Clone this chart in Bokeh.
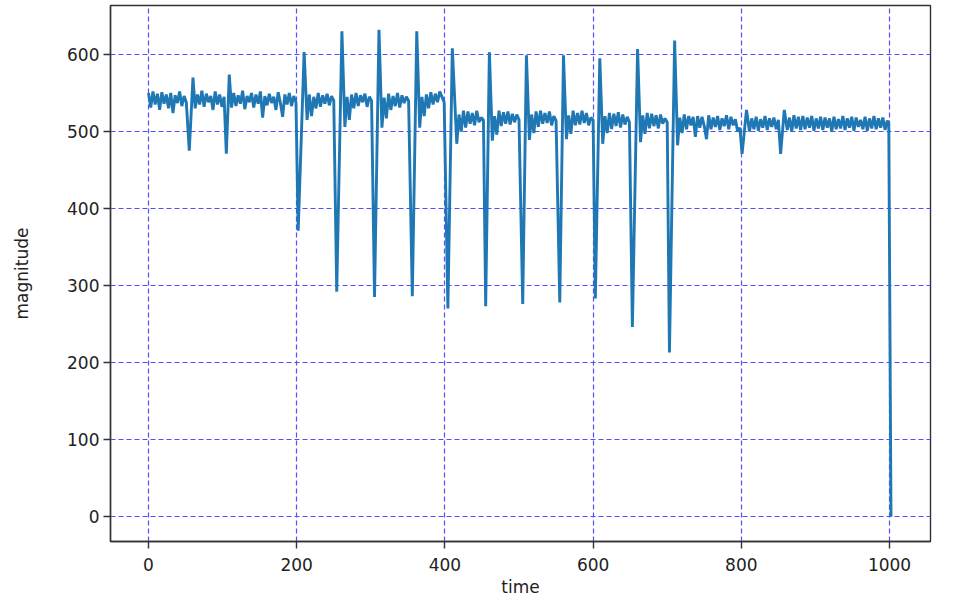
from bokeh.plotting import figure
from bokeh.models import Range1d, FixedTicker
from bokeh.embed import file_html
from bokeh.resources import INLINE

# ---- data ----
time_a = [0, 3, 6, 9, 12, 15, 18, 21, 24, 27, 30, 33, 36, 39, 42, 45, 48, 51, 55, 60,
          63, 66, 69, 72, 75, 78, 81, 84, 87, 90, 93, 96, 99, 102, 105, 109, 112, 115, 118, 121,
          124, 127, 130, 133, 136, 139, 142, 145, 148, 151, 154, 157, 160, 163, 166, 169, 172, 175, 178, 181,
          184, 187, 190, 193, 196, 199]
mag_a = [550, 531, 552, 535, 549, 528, 551, 536, 548, 530, 550, 524, 547, 537, 552, 533, 546, 538, 475, 570,
         530, 548, 535, 553, 532, 549, 538, 546, 528, 552, 535, 548, 532, 545, 471, 574, 531, 550, 533, 547,
         536, 553, 529, 546, 538, 550, 531, 548, 536, 552, 518, 546, 534, 549, 537, 545, 528, 551, 537, 519,
         548, 535, 550, 533, 546, 538]

time_b = [202, 210, 214, 217, 220, 223, 226, 229, 232, 235, 238, 241, 244, 247, 250, 254, 261, 265, 268, 271,
          274, 277, 280, 283, 286, 289, 292, 295, 298, 301, 305, 311, 315, 318, 321, 324, 327, 330, 333, 336,
          339, 342, 345, 348, 351, 356, 362, 366, 369, 372, 375, 378, 381, 384, 387, 390, 393, 396, 399]
mag_b = [371, 603, 515, 548, 520, 545, 530, 550, 532, 547, 536, 549, 534, 546, 540, 292, 630, 506, 545, 515,
         548, 530, 550, 533, 547, 538, 549, 532, 545, 540, 285, 632, 505, 544, 517, 549, 528, 546, 533, 550,
         531, 547, 537, 545, 540, 286, 630, 505, 545, 520, 548, 530, 551, 535, 549, 538, 552, 545, 538]

time_c = [404, 410, 416, 419, 422, 425, 428, 431, 434, 437, 440, 443, 446, 449, 452, 455, 460, 464, 467, 470,
          473, 476, 479, 482, 485, 488, 491, 494, 497, 500, 505, 510, 514, 517, 520, 523, 526, 529, 532, 535,
          538, 541, 544, 547, 550, 555, 560, 564, 567, 570, 573, 576, 579, 582, 585, 588, 591, 594, 597, 600]
mag_c = [270, 608, 484, 522, 500, 527, 505, 526, 510, 524, 508, 527, 512, 518, 515, 273, 603, 488, 520, 496,
         527, 507, 525, 510, 526, 509, 523, 512, 522, 515, 276, 599, 489, 522, 498, 526, 506, 527, 510, 524,
         511, 526, 508, 520, 514, 278, 599, 490, 521, 497, 527, 508, 524, 509, 527, 511, 524, 508, 518, 515]

time_d = [603, 609, 613, 616, 619, 622, 625, 628, 631, 634, 637, 640, 643, 646, 649, 653, 660, 664, 667, 670,
          673, 676, 679, 682, 685, 688, 691, 694, 697, 700, 703, 710, 714, 717, 720, 723, 726, 729, 732, 735,
          738, 741, 744, 747, 750, 753, 756, 759, 762, 765, 768, 771, 774, 777, 780, 783, 786, 789, 792, 795,
          798]
mag_d = [283, 595, 484, 520, 498, 524, 503, 523, 507, 525, 505, 522, 509, 519, 512, 246, 607, 486, 521, 497,
         524, 504, 523, 507, 521, 504, 522, 510, 517, 512, 213, 618, 482, 518, 498, 522, 503, 520, 508, 519,
         493, 520, 505, 519, 507, 490, 521, 503, 518, 506, 520, 502, 517, 507, 521, 503, 519, 508, 516, 500,
         505]

time_e = [801, 807, 811, 814, 817, 820, 823, 826, 829, 832, 835, 838, 841, 844, 847, 850, 853, 858, 862, 865,
          868, 871, 874, 877, 880, 883, 886, 889, 892, 895, 898, 901, 904, 907, 910, 913, 916, 919, 922, 925,
          928, 931, 934, 937, 940, 943, 946, 949, 952, 955, 958, 961, 964, 967, 970, 973, 976, 979, 982, 985,
          988, 991, 994, 997, 999, 1002]
mag_e = [471, 528, 500, 517, 503, 519, 501, 516, 505, 520, 502, 517, 506, 518, 503, 515, 471, 528, 502, 518,
         500, 521, 504, 519, 502, 520, 503, 518, 505, 520, 501, 517, 504, 519, 502, 518, 505, 517, 500, 519,
         503, 516, 504, 520, 502, 517, 505, 519, 501, 518, 506, 515, 503, 519, 501, 517, 504, 520, 503, 517,
         505, 518, 502, 514, 510, 0]

x_ticks = [0, 200, 400, 600, 800, 1000]
y_ticks = [0, 100, 200, 300, 400, 500, 600]

time = time_a + time_b + time_c + time_d + time_e
magnitude = mag_a + mag_b + mag_c + mag_d + mag_e

FONT = "DejaVu Sans"

p = figure(width=941, height=599, output_backend="svg", toolbar_location=None,
           x_range=Range1d(-51.3, 1055.3), y_range=Range1d(-32.5, 663.6),
           min_border_left=110, min_border_right=11, min_border_top=5, min_border_bottom=58,
           x_axis_label="time", y_axis_label="magnitude")

p.line(time, magnitude, line_color="#1f77b4", line_width=2.9)

p.background_fill_color = "white"
p.border_fill_color = "white"
p.outline_line_color = "#333333"
p.outline_line_width = 1.4
p.outline_line_alpha = 1.0

p.xaxis.ticker = FixedTicker(ticks=x_ticks)
p.yaxis.ticker = FixedTicker(ticks=y_ticks)

for ax in (p.xaxis[0], p.yaxis[0]):
    ax.axis_line_color = "#333333"
    ax.axis_line_width = 1.4
    ax.major_tick_line_color = "#333333"
    ax.major_tick_line_width = 1.4
    ax.major_tick_out = 7
    ax.major_tick_in = 0
    ax.minor_tick_out = 0
    ax.minor_tick_in = 0
    ax.major_label_text_font = FONT
    ax.major_label_text_font_size = "17px"
    ax.major_label_text_color = "#222222"
    ax.axis_label_text_font = FONT
    ax.axis_label_text_font_size = "17px"
    ax.axis_label_text_font_style = "normal"
    ax.axis_label_text_color = "#222222"

p.xaxis.major_label_standoff = 9
p.xaxis.axis_label_standoff = 3
p.yaxis.major_label_standoff = 4
p.yaxis.axis_label_standoff = 32

for g in (p.xgrid[0], p.ygrid[0]):
    g.grid_line_color = "#4f4fff"
    g.grid_line_alpha = 1.0
    g.grid_line_dash = "5 3"
    g.grid_line_width = 1.2

open("out.html", "w").write(file_html(p, INLINE))
